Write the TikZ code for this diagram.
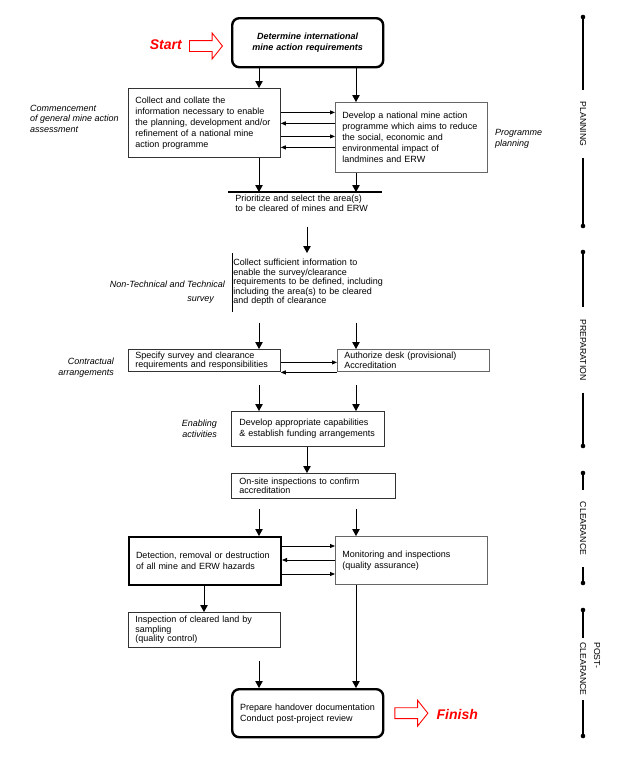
\documentclass[tikz,border=0pt]{standalone}
\usepackage{fontspec}
\setmainfont{Liberation Sans}
\usepackage{tikz}
\usetikzlibrary{arrows.meta,positioning,shapes.arrows}

\begin{document}
\begin{tikzpicture}[x=1pt,y=-1pt,
  box/.style={draw=black!80, line width=0.8pt, anchor=north west, align=left,
    inner xsep=7pt, inner ysep=0pt, font=\fontsize{9}{11}\selectfont},
  greybox/.style={box, draw=black!60},
  bigbox/.style={box, draw=black, rounded corners=7pt, line width=2.4pt},
  varr/.style={-{Triangle[width=7.5pt,length=7pt]}, line width=0.8pt},
  harr/.style={-{Triangle[width=4pt,length=5pt]}, line width=0.8pt},
  side/.style={inner sep=0pt, font=\fontsize{9}{11}\selectfont\itshape},
  phase/.style={rotate=-90, inner xsep=12pt, inner ysep=0pt, font=\fontsize{8.7}{14}\selectfont},
  phaseline/.style={line width=1.4pt},
  hollow/.style={single arrow, draw=red, line width=0.9pt, inner xsep=0pt, inner ysep=5pt,
    single arrow head extend=7.5pt, single arrow tip angle=103, minimum height=33pt},
  redtext/.style={inner sep=0pt, text=red, font=\fontsize{14}{14}\selectfont\bfseries\itshape}
]
\useasboundingbox (0,0) rectangle (632,764);

% columns of the arrows
\coordinate (colD) at (204,0);
\coordinate (colL) at (259,0);
\coordinate (colM) at (307,0);
\coordinate (colR) at (356,0);

% planning
\node[bigbox, align=center, text width=137pt, minimum height=49pt,
  font=\fontsize{9}{11}\selectfont\bfseries\itshape] (intreq) at (231,17)
  {Determine international\\mine action requirements};
\node[redtext, anchor=east] (start) at (182,45) {Start};
\node[hollow, right=7pt of start, yshift=-1pt] (startarr) {};

\node[box, text width=138pt, minimum height=69pt] (collect) at (128,88)
  {Collect and collate the\\information necessary to enable\\the planning, development and/or\\refinement of a national mine\\action  programme};
\node[greybox, text width=138pt, minimum height=70pt] (develop) at (335,102)
  {Develop a national mine action\\programme  which aims to reduce\\the social, economic and\\environmental impact of\\landmines and ERW};
\node[box, draw=none, text width=139pt, minimum height=22pt,
  font=\fontsize{9}{10}\selectfont] (prio) at (228,192)
  {Prioritize  and select the area(s)\\to be cleared of mines and ERW};
\draw[line width=1.3pt] (prio.north west) -- (prio.north east);

\node[side, align=left, anchor=west, font=\fontsize{9}{10.5}\selectfont\itshape] (commence) at (30,118.5)
  {Commencement\\of general mine action\\assessment};
\node[side, align=left, anchor=west] (progplan) at (495,138.5) {Programme\\planning};

% preparation
\node[box, draw=none, inner xsep=1pt, text width=200pt, minimum height=58pt,
  font=\fontsize{9}{9.5}\selectfont] (survey) at (232,253)
  {Collect sufficient information to\\enable the survey/clearance\\requirements to be defined, including\\including the area(s) to be cleared\\and depth of clearance};
\draw[line width=0.8pt] (survey.north west) -- (survey.south west);
\node[side, align=right, anchor=east, font=\fontsize{9}{14}\selectfont\itshape] (nontech) at (225,292)
  {Non-Technical and Technical\\survey\hspace*{11pt}};

\node[box, text width=138pt, minimum height=22pt, font=\fontsize{9}{7.5}\selectfont] (specify) at (128,349)
  {Specify survey and clearance\\requirements and responsibilities};
\node[greybox, text width=138pt, minimum height=22pt, font=\fontsize{9}{7.5}\selectfont] (authorize) at (337,349)
  {Authorize desk (provisional)\\Accreditation};
\node[side, align=right, anchor=east] (contract) at (114,367.5) {Contractual\\arrangements};

\node[box, inner xsep=8pt, text width=137pt, minimum height=35pt] (capab) at (231,411)
  {Develop appropriate capabilities\\\& establish funding arrangements};
\node[side, align=right, anchor=east] (enabling) at (217,428.5) {Enabling\\activities};

% clearance
\node[box, inner xsep=8pt, text width=148pt, minimum height=25pt, font=\fontsize{9}{8}\selectfont] (onsite) at (231,473)
  {On-site inspections to confirm\\accreditation};
\node[box, draw=black, line width=2pt, text width=138pt, minimum height=48pt] (detect) at (128,536)
  {Detection, removal or destruction\\of all mine and ERW hazards};
\node[greybox, text width=138pt, minimum height=48pt] (monitor) at (335,536)
  {Monitoring and inspections\\(quality assurance)};

% post-clearance
\node[box, text width=138pt, minimum height=35pt, font=\fontsize{9}{8}\selectfont] (inspect) at (128,612)
  {Inspection of cleared land by\\sampling\\(quality control)};
\node[bigbox, inner xsep=8pt, text width=135pt, minimum height=48pt] (handover) at (231,688)
  {Prepare  handover  documentation\\Conduct post-project review};
\node[hollow, right=10pt of handover] (finarr) {};
\node[redtext, right=8pt of finarr, yshift=-1.5pt] (finish) {Finish};

% down arrows
\draw[varr] (intreq.south -| colL) -- (collect.north -| colL);
\draw[varr] (intreq.south -| colR) -- (develop.north -| colR);
\draw[varr] (collect.south -| colL) -- (prio.north -| colL);
\draw[varr] (develop.south -| colR) -- (prio.north -| colR);
\draw[varr] ([yshift=-12pt]prio.south -| colM) -- (survey.north -| colM);
\draw[varr] ([yshift=-11pt]survey.south -| colL) -- (specify.north -| colL);
\draw[varr] ([yshift=-11pt]survey.south -| colR) -- (authorize.north -| colR);
\draw[varr] ([yshift=-13pt]specify.south -| colL) -- (capab.north -| colL);
\draw[varr] ([yshift=-13pt]specify.south -| colR) -- (capab.north -| colR);
\draw[varr] (capab.south -| colM) -- (onsite.north -| colM);
\draw[varr] ([yshift=-10pt]onsite.south -| colL) -- (detect.north -| colL);
\draw[varr] ([yshift=-10pt]onsite.south -| colR) -- (monitor.north -| colR);
\draw[varr] (detect.south -| colD) -- (inspect.north -| colD);
\draw[varr] ([yshift=-13pt]inspect.south -| colL) -- (handover.north -| colL);
\draw[varr] (monitor.south -| colR) -- (handover.north -| colR);

% arrows back and forth
\foreach \dy in {10.5pt,-13.5pt}
  \draw[harr] ([yshift=\dy]collect.east) -- ([yshift=\dy]collect.east -| develop.west);
\foreach \dy in {-0.5pt,-24.5pt}
  \draw[harr] ([yshift=\dy]collect.east -| develop.west) -- ([yshift=\dy]collect.east);
\draw[harr] ([yshift=-2pt]specify.east) -- ([yshift=-2pt]specify.east -| authorize.west);
\draw[harr] ([yshift=-12pt]specify.east -| authorize.west) -- ([yshift=-12pt]specify.east);
\foreach \dy in {15pt,-13pt}
  \draw[harr] ([yshift=\dy]detect.east) -- ([yshift=\dy]detect.east -| monitor.west);
\draw[harr] ([yshift=1pt]detect.east -| monitor.west) -- ([yshift=1pt]detect.east);

% phases on the right
\node[phase] (planning) at (583,124) {PLANNING};
\node[phase] (preparation) at (583,350) {PREPARATION};
\node[phase] (clearance) at (583,528.5) {CLEARANCE};
\node[phase, align=left, inner xsep=4.5pt] (postclear) at (590,669) {POST-\\CLEARANCE};
\coordinate (plan1) at (583,17);   \coordinate (plan2) at (583,226);
\coordinate (prep1) at (583,252);  \coordinate (prep2) at (583,446);
\coordinate (clear1) at (583,473); \coordinate (clear2) at (583,583);
\coordinate (post1) at (583,610);  \coordinate (post2) at (583,736);
\foreach \a/\b/\p in {plan1/plan2/planning, prep1/prep2/preparation, clear1/clear2/clearance} {
  \draw[phaseline] (\a) -- (\p.west);
  \draw[phaseline] (\p.east) -- (\b);
  \fill (\a) circle (2.3pt) (\b) circle (2.3pt);
}
\draw[phaseline] (post1) -- (post1 |- postclear.west);
\draw[phaseline] (post2 |- postclear.east) -- (post2);
\fill (post1) circle (2.3pt) (post2) circle (2.3pt);

\end{tikzpicture}
\end{document}
